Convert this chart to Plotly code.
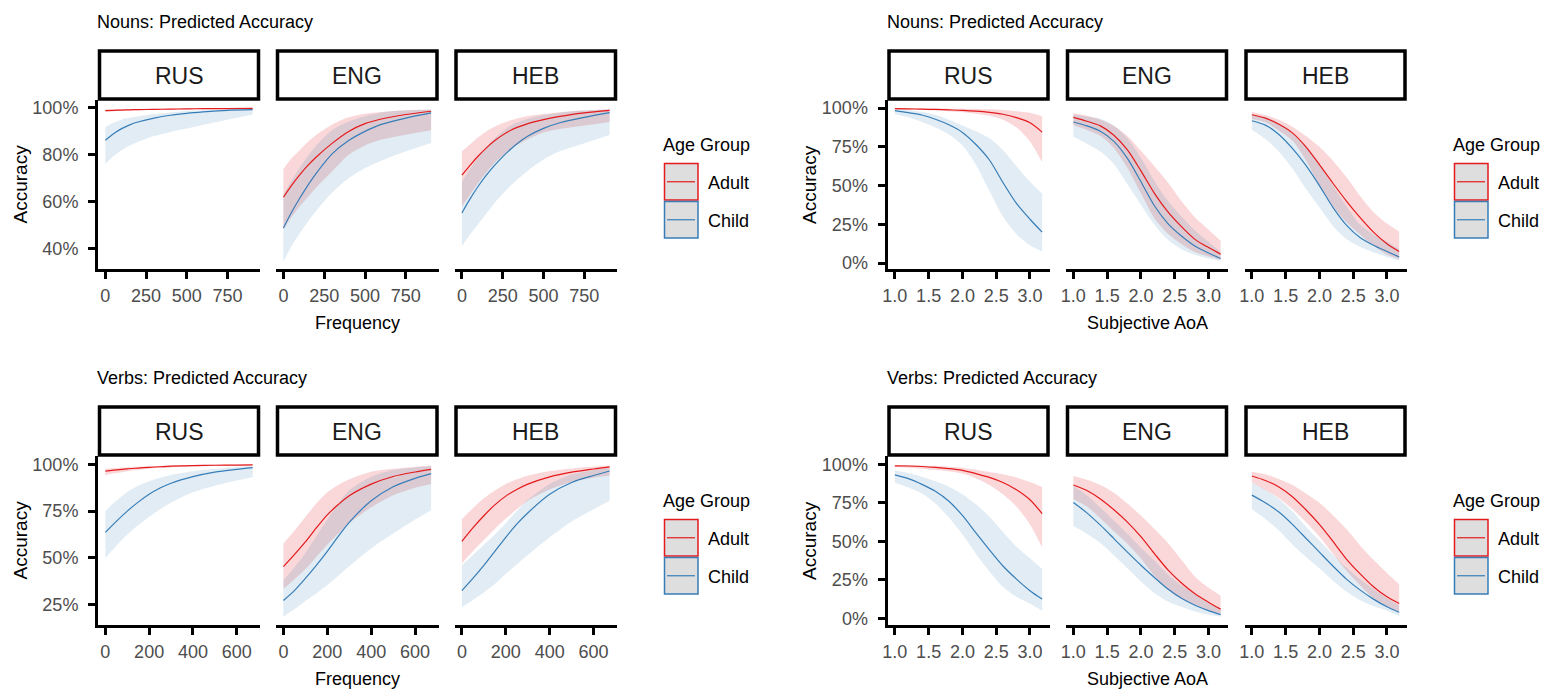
import plotly.graph_objects as go

# ---------------- data (percent) ----------------
LANGS = ["RUS", "ENG", "HEB"]
GROUPS = ["Adult", "Child"]

# Nouns ~ Frequency
N_FREQ_X = [0, 50, 100, 150, 200, 300, 400, 500, 600, 750, 905]
N_FREQ_RUS_ADULT = [98.9, 99.0, 99.1, 99.2, 99.3, 99.4, 99.5, 99.6, 99.7, 99.7, 99.8]
N_FREQ_RUS_ADULT_LO = [98.4, 98.6, 98.8, 98.9, 99.0, 99.2, 99.3, 99.4, 99.5, 99.6, 99.6]
N_FREQ_RUS_ADULT_HI = [99.3, 99.4, 99.5, 99.5, 99.6, 99.7, 99.7, 99.8, 99.8, 99.9, 99.9]
N_FREQ_RUS_CHILD = [86.2, 89.0, 91.2, 92.8, 94.0, 95.7, 96.9, 97.7, 98.3, 99.0, 99.3]
N_FREQ_RUS_CHILD_LO = [76.1, 79.5, 82.0, 84.0, 85.5, 88.0, 89.8, 91.2, 92.8, 95.0, 97.2]
N_FREQ_RUS_CHILD_HI = [91.9, 93.7, 95.0, 95.8, 96.4, 97.4, 98.1, 98.7, 99.0, 99.3, 99.6]
N_FREQ_ENG_ADULT = [61.9, 67.0, 71.5, 75.5, 79.0, 85.0, 90.0, 93.3, 95.3, 97.2, 98.6]
N_FREQ_ENG_ADULT_LO = [48.0, 53.5, 58.0, 62.0, 66.0, 73.0, 80.0, 84.0, 86.5, 88.6, 90.5]
N_FREQ_ENG_ADULT_HI = [74.0, 78.5, 82.0, 85.5, 88.5, 93.0, 96.0, 97.5, 98.3, 99.0, 99.3]
N_FREQ_ENG_CHILD = [48.8, 55.5, 61.5, 67.0, 72.0, 80.5, 86.1, 90.0, 93.0, 95.7, 97.9]
N_FREQ_ENG_CHILD_LO = [34.6, 41.0, 46.5, 51.5, 56.0, 64.0, 70.0, 74.4, 77.5, 81.5, 85.1]
N_FREQ_ENG_CHILD_HI = [63.2, 69.0, 74.6, 79.5, 83.9, 90.6, 94.2, 96.5, 98.1, 99.0, 99.4]
N_FREQ_HEB_ADULT = [71.3, 75.5, 79.5, 83.0, 86.0, 90.5, 93.2, 95.0, 96.4, 97.9, 99.0]
N_FREQ_HEB_ADULT_LO = [58.0, 63.0, 68.0, 72.5, 76.5, 82.5, 86.5, 89.5, 91.0, 92.5, 94.0]
N_FREQ_HEB_ADULT_HI = [81.5, 84.5, 87.5, 90.0, 92.0, 94.8, 96.5, 97.4, 98.2, 98.9, 99.5]
N_FREQ_HEB_CHILD = [55.2, 61.2, 66.6, 71.3, 75.5, 82.5, 87.8, 91.3, 93.7, 96.0, 98.0]
N_FREQ_HEB_CHILD_LO = [41.0, 46.0, 50.5, 55.0, 59.5, 67.0, 73.0, 78.0, 81.5, 85.0, 88.5]
N_FREQ_HEB_CHILD_HI = [68.6, 74.0, 79.0, 83.3, 87.0, 92.5, 95.3, 97.0, 98.0, 99.0, 99.5]

# Nouns ~ Subjective AoA
N_AOA_X = [1.0, 1.2, 1.4, 1.6, 1.8, 2.0, 2.2, 2.4, 2.6, 2.8, 3.0, 3.18]
N_AOA_RUS_ADULT = [99.6, 99.5, 99.3, 99.1, 98.8, 98.5, 98.0, 97.2, 96.0, 93.8, 90.5, 84.5]
N_AOA_RUS_ADULT_LO = [99.2, 99.0, 98.8, 98.4, 97.9, 97.3, 96.4, 95.0, 92.5, 87.5, 78.5, 65.0]
N_AOA_RUS_ADULT_HI = [99.8, 99.8, 99.7, 99.7, 99.6, 99.5, 99.4, 99.2, 98.8, 98.0, 97.0, 94.6]
N_AOA_RUS_CHILD = [98.3, 97.0, 95.5, 92.8, 89.2, 84.3, 76.5, 66.5, 52.0, 38.5, 28.3, 20.0]
N_AOA_RUS_CHILD_LO = [96.1, 94.0, 91.0, 87.5, 83.0, 76.0, 63.5, 46.5, 30.0, 18.7, 11.5, 7.5]
N_AOA_RUS_CHILD_HI = [99.5, 98.8, 97.5, 95.7, 92.5, 88.8, 85.0, 80.5, 73.0, 62.5, 52.5, 44.7]
N_AOA_ENG_ADULT = [94.0, 91.5, 88.5, 82.5, 73.0, 59.5, 45.0, 33.0, 23.5, 15.3, 10.0, 5.8]
N_AOA_ENG_ADULT_LO = [89.0, 85.8, 82.0, 74.3, 61.3, 45.0, 29.0, 19.0, 12.4, 7.2, 4.3, 2.2]
N_AOA_ENG_ADULT_HI = [96.8, 95.0, 92.5, 88.5, 82.0, 72.5, 62.5, 52.0, 40.0, 29.5, 21.5, 14.4]
N_AOA_ENG_CHILD = [91.0, 88.5, 85.0, 78.5, 67.5, 52.5, 37.0, 25.5, 17.5, 11.0, 6.5, 3.0]
N_AOA_ENG_CHILD_LO = [81.7, 77.0, 72.0, 64.0, 51.0, 37.6, 24.7, 15.0, 9.0, 5.4, 3.0, 1.5]
N_AOA_ENG_CHILD_HI = [95.8, 94.6, 93.1, 88.8, 80.5, 68.0, 53.0, 40.0, 30.0, 21.0, 13.7, 7.0]
N_AOA_HEB_ADULT = [95.7, 93.5, 89.5, 84.0, 75.0, 63.5, 51.5, 40.0, 29.5, 20.0, 12.5, 7.5]
N_AOA_HEB_ADULT_LO = [93.0, 90.8, 85.4, 79.0, 66.4, 50.0, 36.8, 26.3, 18.5, 11.2, 5.6, 2.5]
N_AOA_HEB_ADULT_HI = [97.4, 95.5, 92.5, 88.0, 82.0, 75.0, 66.0, 55.5, 43.5, 33.0, 25.5, 20.4]
N_AOA_HEB_CHILD = [91.8, 89.0, 83.0, 74.0, 63.0, 50.0, 36.0, 24.5, 16.5, 11.5, 7.5, 4.0]
N_AOA_HEB_CHILD_LO = [86.0, 80.0, 72.0, 61.0, 48.0, 36.0, 24.0, 15.5, 10.5, 7.0, 4.0, 1.7]
N_AOA_HEB_CHILD_HI = [95.3, 94.2, 90.4, 83.9, 75.8, 64.0, 50.0, 36.5, 25.0, 18.4, 13.7, 9.1]

# Verbs ~ Frequency
V_FREQ_X = [0, 50, 100, 150, 200, 250, 300, 400, 500, 600, 673]
V_FREQ_RUS_ADULT = [96.4, 97.0, 97.6, 98.0, 98.4, 98.7, 99.0, 99.3, 99.5, 99.6, 99.7]
V_FREQ_RUS_ADULT_LO = [94.2, 95.3, 96.3, 97.0, 97.6, 98.0, 98.3, 98.8, 99.1, 99.3, 99.4]
V_FREQ_RUS_ADULT_HI = [97.6, 98.0, 98.4, 98.7, 98.9, 99.1, 99.3, 99.5, 99.7, 99.8, 99.9]
V_FREQ_RUS_CHILD = [63.6, 69.5, 75.0, 79.8, 84.0, 87.3, 89.9, 93.4, 95.8, 97.3, 98.2]
V_FREQ_RUS_CHILD_LO = [50.0, 56.5, 62.5, 67.5, 72.0, 76.0, 79.5, 85.0, 88.5, 91.3, 93.2]
V_FREQ_RUS_CHILD_HI = [75.1, 80.5, 85.2, 88.5, 91.0, 92.8, 94.3, 96.3, 97.6, 98.6, 99.1]
V_FREQ_ENG_ADULT = [45.3, 51.7, 58.5, 66.0, 73.0, 78.5, 83.2, 89.4, 93.5, 95.9, 97.3]
V_FREQ_ENG_ADULT_LO = [33.5, 38.5, 44.0, 50.5, 57.0, 63.0, 68.5, 77.0, 83.5, 87.5, 89.5]
V_FREQ_ENG_ADULT_HI = [57.7, 64.5, 71.8, 79.0, 85.0, 89.0, 92.0, 96.0, 97.6, 98.6, 99.3]
V_FREQ_ENG_CHILD = [27.2, 32.5, 39.0, 46.0, 53.5, 61.5, 69.0, 80.5, 88.0, 92.5, 95.0]
V_FREQ_ENG_CHILD_LO = [18.6, 22.5, 27.0, 31.0, 35.5, 40.5, 45.5, 55.0, 63.0, 70.5, 75.5]
V_FREQ_ENG_CHILD_HI = [38.0, 45.0, 52.5, 61.5, 70.5, 79.0, 86.0, 93.3, 96.9, 98.4, 99.1]
V_FREQ_HEB_ADULT = [58.8, 66.0, 72.5, 78.3, 83.0, 86.5, 89.4, 93.3, 95.8, 97.5, 98.6]
V_FREQ_HEB_ADULT_LO = [47.0, 53.5, 59.5, 65.5, 71.0, 76.0, 80.5, 86.5, 90.5, 92.8, 94.0]
V_FREQ_HEB_ADULT_HI = [70.7, 76.5, 81.8, 86.0, 89.5, 92.0, 93.9, 96.4, 97.8, 98.8, 99.4]
V_FREQ_HEB_CHILD = [32.5, 39.0, 46.0, 53.5, 61.0, 68.0, 74.0, 84.0, 90.3, 94.0, 96.4]
V_FREQ_HEB_CHILD_LO = [23.6, 27.5, 31.5, 36.0, 41.5, 46.5, 51.5, 61.0, 69.5, 76.0, 80.5]
V_FREQ_HEB_CHILD_HI = [46.0, 51.5, 57.0, 62.5, 68.5, 75.0, 81.0, 89.5, 94.5, 97.0, 98.3]

# Verbs ~ Subjective AoA
V_AOA_X = [1.0, 1.2, 1.4, 1.6, 1.8, 2.0, 2.2, 2.4, 2.6, 2.8, 3.0, 3.18]
V_AOA_RUS_ADULT = [99.0, 98.9, 98.6, 98.0, 97.2, 96.1, 94.0, 91.5, 88.2, 83.5, 77.0, 68.0]
V_AOA_RUS_ADULT_LO = [98.2, 97.8, 97.2, 96.3, 95.5, 94.0, 91.0, 86.5, 80.5, 72.5, 61.0, 46.0]
V_AOA_RUS_ADULT_HI = [99.6, 99.5, 99.3, 99.0, 98.5, 97.8, 96.5, 95.0, 93.5, 91.5, 88.5, 85.3]
V_AOA_RUS_CHILD = [93.1, 90.7, 87.0, 82.5, 76.0, 66.8, 55.5, 44.5, 34.0, 25.5, 18.0, 12.5]
V_AOA_RUS_CHILD_LO = [88.1, 85.0, 81.0, 74.5, 65.5, 54.6, 42.0, 30.5, 20.5, 14.0, 9.5, 5.0]
V_AOA_RUS_CHILD_HI = [96.1, 94.3, 92.0, 89.0, 85.5, 80.6, 74.0, 66.0, 56.0, 46.5, 39.0, 32.0]
V_AOA_ENG_ADULT = [86.6, 83.0, 77.5, 70.5, 62.5, 53.0, 42.0, 31.5, 23.0, 16.0, 10.5, 6.0]
V_AOA_ENG_ADULT_LO = [77.4, 72.7, 65.0, 56.5, 48.5, 38.9, 27.5, 18.5, 12.7, 8.9, 5.3, 2.3]
V_AOA_ENG_ADULT_HI = [92.4, 90.0, 86.5, 81.5, 74.5, 66.7, 58.0, 49.0, 38.0, 27.0, 20.0, 14.7]
V_AOA_ENG_CHILD = [75.2, 68.5, 60.5, 51.8, 43.0, 34.5, 26.5, 19.0, 13.0, 8.5, 5.0, 2.4]
V_AOA_ENG_CHILD_LO = [60.0, 55.0, 49.0, 41.0, 32.5, 24.0, 16.5, 11.0, 7.5, 4.5, 2.5, 1.0]
V_AOA_ENG_CHILD_HI = [86.0, 80.0, 72.0, 63.5, 55.0, 46.0, 37.5, 28.5, 21.5, 15.4, 9.8, 5.6]
V_AOA_HEB_ADULT = [92.4, 89.5, 85.3, 79.0, 70.5, 61.0, 50.0, 38.5, 29.0, 20.5, 14.0, 9.7]
V_AOA_HEB_ADULT_LO = [88.2, 83.4, 78.0, 71.0, 62.5, 53.0, 42.0, 31.0, 21.5, 13.0, 7.5, 4.5]
V_AOA_HEB_ADULT_HI = [95.2, 93.5, 90.5, 86.5, 81.0, 75.0, 67.0, 58.0, 47.5, 38.0, 29.5, 22.2]
V_AOA_HEB_CHILD = [80.0, 75.0, 69.0, 61.0, 52.0, 43.0, 34.0, 25.5, 18.5, 12.5, 7.5, 4.0]
V_AOA_HEB_CHILD_LO = [70.8, 64.5, 57.0, 48.0, 40.0, 32.5, 24.5, 17.5, 12.0, 8.0, 5.0, 1.5]
V_AOA_HEB_CHILD_HI = [88.0, 83.5, 77.5, 69.5, 59.5, 50.5, 41.5, 33.0, 25.5, 19.0, 13.0, 8.5]

FREQ_N_TICKS = [0, 250, 500, 750]
FREQ_V_TICKS = [0, 200, 400, 600]
AOA_TICKS = [1.0, 1.5, 2.0, 2.5, 3.0]
ACC_N_FREQ_TICKS = [40, 60, 80, 100]
ACC_V_FREQ_TICKS = [25, 50, 75, 100]
ACC_AOA_TICKS = [0, 25, 50, 75, 100]

# ---------------- styling / layout ----------------
W, H = 1544, 692
FONT = "Liberation Sans, Arial, sans-serif"
COL = {"Adult": "#E41A1C", "Child": "#377EB8"}
FILL = {"Adult": "rgba(228,26,28,0.17)", "Child": "rgba(55,126,184,0.15)"}
TICK_GREY = "#4d4d4d"


def pxx(x):
    return x / W


def pxy(y):
    return 1 - y / H


LEFT_COLS = [(98, 260), (276, 438.5), (454.5, 617)]
RIGHT_COLS = [(887.5, 1049.5), (1066, 1228), (1244.5, 1406.5)]

g = globals()


def series(prefix, lang, grp):
    base = f"{prefix}_{lang}_{grp.upper()}"
    return g[base], g[base + "_LO"], g[base + "_HI"]


def fmt_x(v, f):
    return f"{v:.1f}" if f == ".1f" else f"{int(v)}"


panels = [
    dict(prefix="N_FREQ", x=N_FREQ_X, title="Nouns: Predicted Accuracy", xlabel="Frequency",
         cols=LEFT_COLS, top=100, bottom=269, xr=[-45.25, 950.25], yr=[31.3, 103.4],
         xt=FREQ_N_TICKS, yt=ACC_N_FREQ_TICKS, xfmt="d", legx=663),
    dict(prefix="N_AOA", x=N_AOA_X, title="Nouns: Predicted Accuracy", xlabel="Subjective AoA",
         cols=RIGHT_COLS, top=100, bottom=269, xr=[0.891, 3.289], yr=[-3.8, 105.2],
         xt=AOA_TICKS, yt=ACC_AOA_TICKS, xfmt=".1f", legx=1453),
    dict(prefix="V_FREQ", x=V_FREQ_X, title="Verbs: Predicted Accuracy", xlabel="Frequency",
         cols=LEFT_COLS, top=456, bottom=625, xr=[-33.65, 706.65], yr=[14.15, 104.43],
         xt=FREQ_V_TICKS, yt=ACC_V_FREQ_TICKS, xfmt="d", legx=663),
    dict(prefix="V_AOA", x=V_AOA_X, title="Verbs: Predicted Accuracy", xlabel="Subjective AoA",
         cols=RIGHT_COLS, top=456, bottom=625, xr=[0.891, 3.289], yr=[-4.3, 105.4],
         xt=AOA_TICKS, yt=ACC_AOA_TICKS, xfmt=".1f", legx=1453),
]

fig = go.Figure()
layout = dict(width=W, height=H, margin=dict(l=0, r=0, t=0, b=0, pad=0),
              paper_bgcolor="white", plot_bgcolor="white", showlegend=False,
              font=dict(family=FONT, color="#000000"))
shapes = []
annotations = []

idx = 0
for p in panels:
    top, bottom = p["top"], p["bottom"]
    for j, lang in enumerate(LANGS):
        idx += 1
        sx = "" if idx == 1 else str(idx)
        xa, ya = "x" + sx, "y" + sx
        left, right = p["cols"][j]
        layout["xaxis" + sx] = dict(
            domain=[pxx(left), pxx(right)], anchor=ya, range=p["xr"], automargin=False,
            showgrid=False, zeroline=False, showline=True, linecolor="#000000", linewidth=3,
            ticks="outside", ticklen=7, tickwidth=2.5, tickcolor="#000000",
            tickmode="array", tickvals=p["xt"],
            ticktext=[fmt_x(v, p["xfmt"]) for v in p["xt"]], ticklabelstandoff=1,
            tickfont=dict(family=FONT, size=18, color=TICK_GREY), fixedrange=True)
        ydict = dict(domain=[pxy(bottom), pxy(top)], anchor=xa, range=p["yr"],
                     showgrid=False, zeroline=False, fixedrange=True, automargin=False)
        if j == 0:
            ydict.update(showline=True, linecolor="#000000", linewidth=3,
                         ticks="outside", ticklen=7, tickwidth=2.5, tickcolor="#000000",
                         tickmode="array", tickvals=p["yt"],
                         ticktext=[f"{v}%" for v in p["yt"]], ticklabelstandoff=6,
                         tickfont=dict(family=FONT, size=18, color=TICK_GREY))
        else:
            ydict.update(showline=False, showticklabels=False, ticks="")
        layout["yaxis" + sx] = ydict

        # ribbons
        for grp in GROUPS:
            mid, lo, hi = series(p["prefix"], lang, grp)
            fig.add_trace(go.Scatter(x=p["x"], y=lo, xaxis=xa, yaxis=ya, mode="lines",
                                     line=dict(width=0, shape="spline", smoothing=0.8),
                                     hoverinfo="skip"))
            fig.add_trace(go.Scatter(x=p["x"], y=hi, xaxis=xa, yaxis=ya, mode="lines",
                                     line=dict(width=0, shape="spline", smoothing=0.8),
                                     fill="tonexty", fillcolor=FILL[grp], hoverinfo="skip"))
        # lines
        for grp in GROUPS:
            mid, lo, hi = series(p["prefix"], lang, grp)
            fig.add_trace(go.Scatter(x=p["x"], y=mid, xaxis=xa, yaxis=ya, mode="lines",
                                     name=grp,
                                     line=dict(color=COL[grp], width=1.2, shape="spline",
                                               smoothing=0.8)))

        # strip box
        shapes.append(dict(type="rect", xref="paper", yref="paper",
                           x0=pxx(left + 1.5), x1=pxx(right - 1.5),
                           y0=pxy(top - 49), y1=pxy(top - 1),
                           line=dict(color="#000000", width=3.5), fillcolor="white"))
        annotations.append(dict(xref="paper", yref="paper", x=pxx((left + right) / 2),
                                y=pxy(top - 24), text=lang, showarrow=False,
                                xanchor="center", yanchor="middle",
                                font=dict(family=FONT, size=23, color="#1a1a1a")))

    # panel title
    cl = p["cols"][0][0]
    annotations.append(dict(xref="paper", yref="paper", x=pxx(cl - 3), y=pxy(top - 78),
                            text=p["title"], showarrow=False, xanchor="left",
                            yanchor="middle", font=dict(family=FONT, size=18, color="#000000")))
    # x axis title
    mc = p["cols"][1]
    annotations.append(dict(xref="paper", yref="paper", x=pxx((mc[0] + mc[1]) / 2),
                            y=pxy(bottom + 54), text=p["xlabel"], showarrow=False,
                            xanchor="center", yanchor="middle",
                            font=dict(family=FONT, size=18, color="#000000")))
    # y axis title
    annotations.append(dict(xref="paper", yref="paper", x=pxx(cl - 78),
                            y=pxy((top + bottom) / 2), text="Accuracy", showarrow=False,
                            textangle=-90, xanchor="center", yanchor="middle",
                            font=dict(family=FONT, size=19, color="#000000")))
    # legend
    lx = p["legx"]
    annotations.append(dict(xref="paper", yref="paper", x=pxx(lx - 2), y=pxy(top + 45),
                            text="Age Group", showarrow=False, xanchor="left",
                            yanchor="middle", font=dict(family=FONT, size=18, color="#000000")))
    for k, grp in enumerate(GROUPS):
        ky0 = top + 63.5 + k * 38
        ky1 = ky0 + 36.5
        shapes.append(dict(type="rect", xref="paper", yref="paper",
                           x0=pxx(lx + 1.5), x1=pxx(lx + 35), y0=pxy(ky1), y1=pxy(ky0),
                           line=dict(color=COL[grp], width=1.5), fillcolor="#dedede"))
        ym = (ky0 + ky1) / 2
        shapes.append(dict(type="line", xref="paper", yref="paper",
                           x0=pxx(lx + 4), x1=pxx(lx + 32), y0=pxy(ym), y1=pxy(ym),
                           line=dict(color=COL[grp], width=1.2)))
        annotations.append(dict(xref="paper", yref="paper", x=pxx(lx + 43), y=pxy(ym + 1),
                                text=grp, showarrow=False, xanchor="left", yanchor="middle",
                                font=dict(family=FONT, size=18, color="#000000")))

layout["shapes"] = shapes
layout["annotations"] = annotations
fig.update_layout(**layout)

fig.write_html("out.html", config={"displayModeBar": False},
               post_script="document.body.style.margin='0px';")
